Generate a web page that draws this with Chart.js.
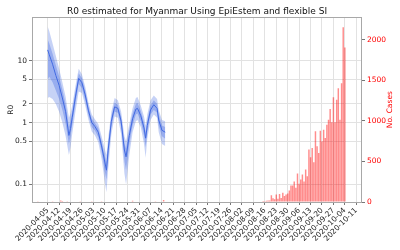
<!DOCTYPE html>
<html>
<head>
<meta charset="utf-8">
<script src="https://cdn.jsdelivr.net/npm/chart.js@4.4.1/dist/chart.umd.min.js"></script>
<style>
  html, body { margin: 0; background: #fff; }
  #wrap { width: 400px; height: 250px; }
</style>
</head>
<body>
<div id="wrap"><canvas id="chart"></canvas></div>
<script>
// x values are days after 2020-04-05
const weekLabels = ['2020-04-05','2020-04-12','2020-04-19','2020-04-26','2020-05-03','2020-05-10','2020-05-17',
  '2020-05-24','2020-05-31','2020-06-07','2020-06-14','2020-06-21','2020-06-28','2020-07-05','2020-07-12',
  '2020-07-19','2020-07-26','2020-08-02','2020-08-09','2020-08-16','2020-08-23','2020-08-30','2020-09-06',
  '2020-09-13','2020-09-20','2020-09-27','2020-10-04','2020-10-11']

const r0Days = [0,1,3,5,7,9,11,13,14,15,17,19,21,23,25,27,29,31,33,35,36,37,39,41,43,45,47,48,50,52,54,55,57,59,60,61,63,65,67,68,70,72]
const r0Mean = [15,12.5,8.8,5.8,4.0,2.5,1.5,0.62,0.8,1.2,2.6,5.2,4.4,2.8,1.55,1.0,0.86,0.7,0.42,0.23,0.17,0.35,1.05,1.8,1.7,1.05,0.36,0.28,0.62,1.15,1.65,1.7,1.3,0.82,0.56,0.9,1.6,1.95,1.7,1.1,0.75,0.7]
const r0Lo50 = [5,5.5,4.5,3.3,2.4,1.6,0.95,0.45,0.6,0.9,2.0,4.2,3.6,2.3,1.3,0.85,0.74,0.58,0.34,0.16,0.12,0.25,0.85,1.5,1.45,0.85,0.24,0.17,0.45,0.9,1.35,1.4,1.05,0.62,0.4,0.7,1.35,1.6,1.45,0.9,0.6,0.55]
const r0Hi50 = [22,19,13,8.5,5.6,3.4,2.0,0.85,1.05,1.5,3.2,6.3,5.2,3.3,1.8,1.15,0.98,0.82,0.5,0.29,0.23,0.44,1.25,2.1,1.95,1.25,0.46,0.38,0.78,1.4,2.0,2.1,1.55,1.0,0.7,1.1,1.9,2.3,2.0,1.35,0.9,0.85]
const r0Lo95 = [2.5,2.6,2.4,2.0,1.5,1.0,0.6,0.3,0.4,0.65,1.5,3.2,3.0,1.9,1.1,0.72,0.62,0.48,0.26,0.11,0.075,0.17,0.65,1.25,1.2,0.65,0.15,0.1,0.3,0.7,1.05,1.1,0.85,0.45,0.27,0.55,1.1,1.35,1.2,0.7,0.45,0.42]
const r0Hi95 = [36,30,19,12,7.5,4.5,2.6,1.2,1.4,1.9,3.9,7.4,6.0,3.8,2.1,1.35,1.12,0.95,0.6,0.37,0.3,0.55,1.5,2.5,2.3,1.5,0.6,0.5,0.95,1.7,2.5,2.6,1.9,1.25,0.9,1.35,2.3,2.75,2.4,1.6,1.1,1.05]

const earlyCaseDays = [-6,-3,3,8,9,12,15,20,27,33,44,52,60,66,71]
const earlyCases = [3,5,8,18,12,10,6,4,3,10,5,14,6,4,26]
const wave2FirstDay = 131 // 2020-08-14
const wave2Cases = [5,12,8,15,20,18,82,45,33,94,41,98,49,115,74,94,106,143,205,205,254,176,352,225,278,340,
  254,401,319,647,553,667,491,872,688,606,880,749,893,790,954,1015,1147,983,1294,983,1261,1405,1015,1466,2158,1908]

const r0Ticks = [0.1, 0.5, 1, 2, 5, 10]
const caseTicks = [0, 500, 1000, 1500, 2000]

const FONT = 'DejaVu Sans'
const BLUE = 'rgb(65,105,225)'

function pts(xs, ys) { return xs.map((x, i) => ({x: x, y: ys[i]})) }

const caseData = pts(earlyCaseDays, earlyCases)
    .concat(wave2Cases.map((v, i) => ({x: wave2FirstDay + i, y: v})))

const band = (label, ys, fill, color) => ({
    label: label, data: pts(r0Days, ys), yAxisID: 'y', fill: fill,
    backgroundColor: color, borderWidth: 0, pointRadius: 0, tension: 0
})

const framePlugin = {
    id: 'frame',
    afterDraw(chart) {
        const a = chart.chartArea, ctx = chart.ctx
        ctx.save()
        ctx.strokeStyle = '#a8a8a8'
        ctx.lineWidth = 1
        ctx.strokeRect(Math.round(a.left) + 0.5, Math.round(a.top) + 0.5, Math.round(a.right - a.left) - 1, Math.round(a.bottom - a.top))
        // right axis label reads bottom to top
        ctx.translate(390, (a.top + a.bottom) / 2)
        ctx.rotate(-Math.PI / 2)
        ctx.fillStyle = 'red'
        ctx.font = '7.5px "' + FONT + '"'
        ctx.textAlign = 'center'
        ctx.textBaseline = 'middle'
        ctx.fillText('No. Cases', 0, 0)
        ctx.restore()
    }
}

new Chart(document.getElementById('chart'), {
    type: 'line',
    data: {
        datasets: [
            band('hi95', r0Hi95, 1, 'rgba(65,105,225,0.3)'),
            band('lo95', r0Lo95, false, 'transparent'),
            band('hi50', r0Hi50, 3, 'rgba(65,105,225,0.35)'),
            band('lo50', r0Lo50, false, 'transparent'),
            { label: 'R0', data: pts(r0Days, r0Mean), yAxisID: 'y', borderColor: BLUE, borderWidth: 1, pointRadius: 0, fill: false },
            { type: 'bar', label: 'cases', data: caseData, yAxisID: 'y2', backgroundColor: 'rgba(255,0,0,0.45)',
              borderWidth: 0, barPercentage: 0.9, categoryPercentage: 1 }
        ]
    },
    options: {
        responsive: true,
        maintainAspectRatio: false,
        animation: false,
        layout: { padding: 0 },
        plugins: {
            legend: { display: false },
            tooltip: { enabled: false },
            title: {
                display: true, fullSize: false,
                text: 'R0 estimated for Myanmar Using EpiEstem and flexible SI',
                color: '#111', font: { family: FONT, size: 9, weight: 'normal', lineHeight: 1.2 },
                padding: { top: 6, bottom: 0.5 }
            }
        },
        scales: {
            x: {
                type: 'linear', min: -9.6, max: 192.5, offset: false,
                afterBuildTicks: s => { s.ticks = weekLabels.map((l, i) => ({value: i * 7})) },
                afterFit: s => { s.height = 48 },
                ticks: {
                    autoSkip: false, minRotation: 45, maxRotation: 45, padding: 1,
                    color: '#222', font: { family: FONT, size: 7.5 },
                    callback: (v, i) => weekLabels[i]
                },
                grid: { color: '#e2e2e2', tickColor: '#777', tickLength: 3, offset: false },
                border: { display: false }
            },
            y: {
                type: 'logarithmic', position: 'left', min: 0.052, max: 50.5,
                afterBuildTicks: s => { s.ticks = r0Ticks.map(v => ({value: v})) },
                afterFit: s => { s.width = 32 },
                ticks: { color: '#222', font: { family: FONT, size: 7.5 }, padding: 2, callback: v => String(v) },
                grid: { color: '#e2e2e2', tickColor: '#777', tickLength: 3 },
                border: { display: false },
                title: { display: true, text: 'R0', color: '#222', font: { family: FONT, size: 7.5 }, padding: { top: 7, bottom: 0 } }
            },
            y2: {
                type: 'linear', position: 'right', min: 0, max: 2280,
                afterBuildTicks: s => { s.ticks = caseTicks.map(v => ({value: v})) },
                afterFit: s => { s.width = 38 },
                ticks: { color: 'red', font: { family: FONT, size: 7.5 }, padding: 2, callback: v => String(v) },
                grid: { drawOnChartArea: false, tickColor: '#777', tickLength: 3 },
                border: { display: false }
            }
        }
    },
    plugins: [framePlugin]
});
</script>
</body>
</html>
